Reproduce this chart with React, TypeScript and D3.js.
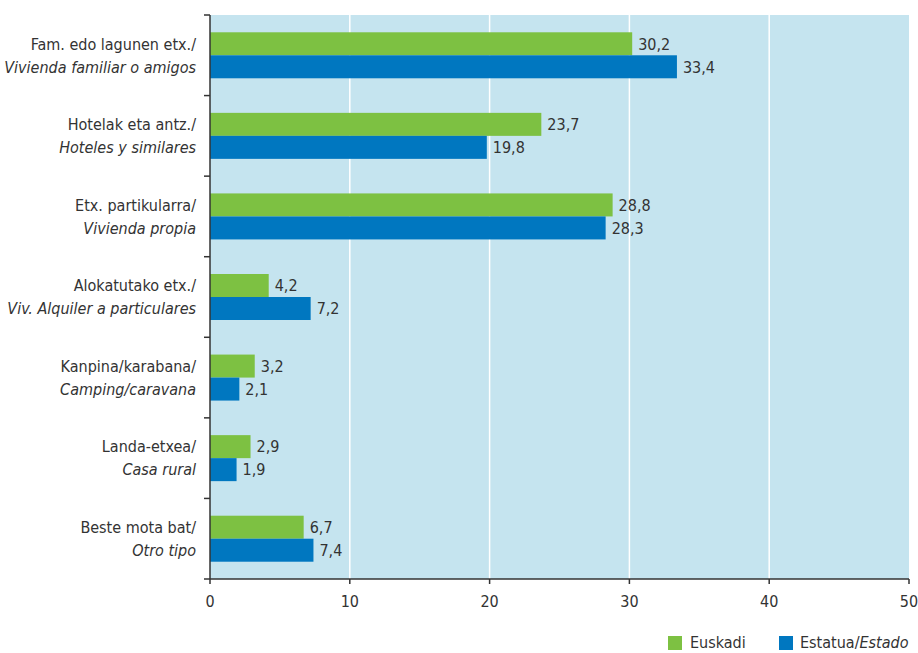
import React from "react";
import * as d3 from "d3";

const categoriesEu = [
  "Fam. edo lagunen etx./",
  "Hotelak eta antz./",
  "Etx. partikularra/",
  "Alokatutako etx./",
  "Kanpina/karabana/",
  "Landa-etxea/",
  "Beste mota bat/",
];
const categoriesEs = [
  "Vivienda familiar o amigos",
  "Hoteles y similares",
  "Vivienda propia",
  "Viv. Alquiler a particulares",
  "Camping/caravana",
  "Casa rural",
  "Otro tipo",
];
const euskadi = [30.2, 23.7, 28.8, 4.2, 3.2, 2.9, 6.7];
const estado = [33.4, 19.8, 28.3, 7.2, 2.1, 1.9, 7.4];
const xTicks = [0, 10, 20, 30, 40, 50];

const GREEN = "#7dc142";
const BLUE = "#0077c0";
const BG = "#c5e4ef";
const TEXT = "#333333";
const FONT = "'Liberation Sans Narrow', 'DejaVu Sans Condensed', 'Roboto Condensed', sans-serif";

export default function App() {
  const W = 918, H = 653;
  const left = 210, right = 909, top = 15, bottom = 579;
  const x = d3.scaleLinear().domain([0, 50]).range([left, right]);
  const idx = d3.range(categoriesEu.length);
  const y = d3.scaleBand<number>().domain(idx).range([top, bottom]).paddingInner(0).paddingOuter(0);
  const bw = y.bandwidth();
  const barH = 23;
  const groupOff = (bw - 2 * barH) / 2;
  const fmt = (v: number) => v.toFixed(1).replace(".", ",");

  return (
    <svg width={W} height={H} style={{ position: "absolute", left: 0, top: 0, fontFamily: FONT }}>
      <rect x={left} y={top} width={right - left} height={bottom - top} fill={BG} />
      {xTicks.slice(1, -1).map((t) => (
        <line key={t} x1={x(t)} x2={x(t)} y1={top} y2={bottom} stroke="#ffffff" strokeWidth={1.5} />
      ))}
      {idx.map((i) => {
        const y0 = (y(i) as number) + groupOff;
        return (
          <g key={i}>
            <rect x={x(0)} y={y0} width={x(euskadi[i]) - x(0)} height={barH} fill={GREEN} />
            <rect x={x(0)} y={y0 + barH} width={x(estado[i]) - x(0)} height={barH} fill={BLUE} />
            <text x={x(euskadi[i]) + 6} y={y0 + barH / 2} dy="0.36em" fontSize={16} fill={TEXT}>
              {fmt(euskadi[i])}
            </text>
            <text x={x(estado[i]) + 6} y={y0 + barH * 1.5} dy="0.36em" fontSize={16} fill={TEXT}>
              {fmt(estado[i])}
            </text>
            <text x={196} y={y0 + barH / 2} dy="0.36em" fontSize={16} fill={TEXT} textAnchor="end">
              {categoriesEu[i]}
            </text>
            <text x={196} y={y0 + barH * 1.5} dy="0.36em" fontSize={16} fill={TEXT} textAnchor="end" fontStyle="italic">
              {categoriesEs[i]}
            </text>
          </g>
        );
      })}
      {/* y axis */}
      <line x1={left} x2={left} y1={top} y2={bottom} stroke={TEXT} strokeWidth={1.5} />
      {d3.range(categoriesEu.length + 1).map((i) => {
        const yy = top + i * bw;
        return <line key={i} x1={left - 6} x2={left} y1={yy} y2={yy} stroke={TEXT} strokeWidth={1.5} />;
      })}
      {/* x axis */}
      <line x1={left} x2={right} y1={bottom} y2={bottom} stroke={TEXT} strokeWidth={1.5} />
      {xTicks.map((t) => (
        <g key={t}>
          <line x1={x(t)} x2={x(t)} y1={bottom} y2={bottom + 5} stroke={TEXT} strokeWidth={1.5} />
          <text x={x(t)} y={bottom + 22} dy="0.36em" fontSize={16} fill={TEXT} textAnchor="middle">
            {t}
          </text>
        </g>
      ))}
      {/* legend */}
      <rect x={668} y={636} width={14} height={14} fill={GREEN} />
      <text x={690} y={642} dy="0.36em" fontSize={16} fill={TEXT}>Euskadi</text>
      <rect x={779} y={636} width={14} height={14} fill={BLUE} />
      <text x={800} y={642} dy="0.36em" fontSize={16} fill={TEXT}>
        Estatua/<tspan fontStyle="italic">Estado</tspan>
      </text>
    </svg>
  );
}
